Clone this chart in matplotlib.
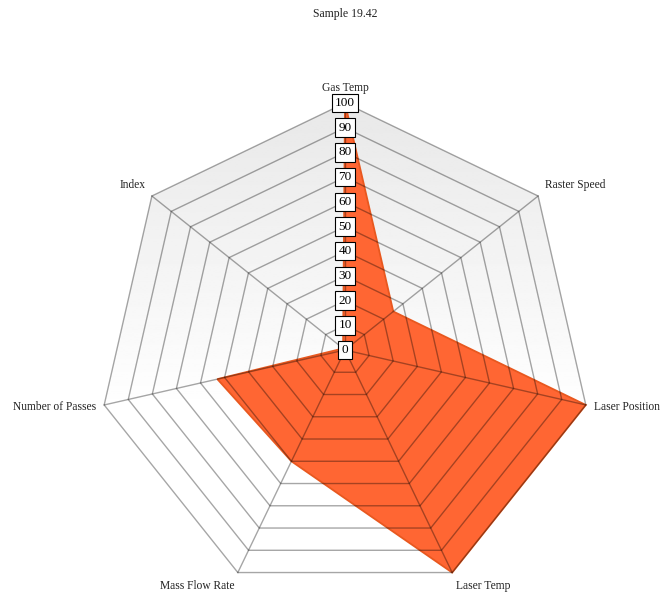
import matplotlib
matplotlib.use("Agg")
import matplotlib.pyplot as plt
import numpy as np
from matplotlib.patches import Polygon

plt.rcParams['font.family'] = ['Liberation Serif', 'DejaVu Serif']

# radar data, clockwise from the top
axes_names = ['Gas Temp', 'Raster Speed', 'Laser Position', 'Laser Temp',
              'Mass Flow Rate', 'Number of Passes', 'Index']
values = [100, 25, 100, 100, 50, 53, 1]
ring_levels = [0, 10, 20, 30, 40, 50, 60, 70, 80, 90, 100]
title = 'Sample 19.42'

n = len(axes_names)
ang = np.arange(n) * 2 * np.pi / n
dx, dy = np.sin(ang), np.cos(ang)


def pts(r):
    r = np.asarray(r, dtype=float) * np.ones(n)
    return np.column_stack([r * dx, r * dy])


fig = plt.figure(figsize=(6.63, 6.01), dpi=100)
ax = fig.add_axes([0, 0, 1, 1])
ax.set_xlim(-345 / 2.47, (663 - 345) / 2.47)
ax.set_ylim((350 - 601) / 2.47, 350 / 2.47)
ax.axis('off')

# grey-to-white gradient inside the outer ring
outer = Polygon(pts(100), closed=True, facecolor='none', edgecolor='none')
ax.add_patch(outer)
grad = np.linspace(0, 1, 256).reshape(-1, 1)
grad = np.clip(grad * 1.6, 0, 1)
img = ax.imshow(0.91 + 0.09 * grad, cmap='gray', vmin=0, vmax=1, aspect='auto',
                extent=(-100, 100, -100, 100), origin='upper', zorder=1)
img.set_clip_path(outer)

# series fill
ax.add_patch(Polygon(pts(values), closed=True, facecolor='#ff6633',
                     edgecolor='#e8581f', linewidth=1.3, zorder=2))

# rings and spokes
for lv in ring_levels[1:]:
    p = pts(lv)
    ax.add_patch(Polygon(p, closed=True, fill=False, edgecolor='black',
                         alpha=0.35, linewidth=1, zorder=3))
for i in range(n):
    ax.plot([0, 100 * dx[i]], [0, 100 * dy[i]], color='black', alpha=0.35,
            linewidth=1, zorder=3)

# scale labels on the first axis
for lv in ring_levels:
    ax.text(0, lv, str(lv), ha='center', va='center', fontsize=9.5, zorder=5,
            bbox=dict(boxstyle='square,pad=0.25', facecolor='white',
                      edgecolor='black', linewidth=0.8))

# axis names
for i, name in enumerate(axes_names):
    r = 103.5
    x, y = r * dx[i], r * dy[i]
    if abs(dx[i]) < 0.1:
        ha = 'center'
    else:
        ha = 'left' if dx[i] > 0 else 'right'
    if abs(dy[i]) < 0.3:
        va = 'center'
    else:
        va = 'bottom' if dy[i] > 0 else 'top'
    ax.text(x, y, name, ha=ha, va=va, fontsize=8.3, color='#222222')

ax.text(0, 350 / 2.47 - 14 / 2.47, title, ha='center', va='center',
        fontsize=8.5, color='#222222')

fig.savefig('out.png', dpi=100)
